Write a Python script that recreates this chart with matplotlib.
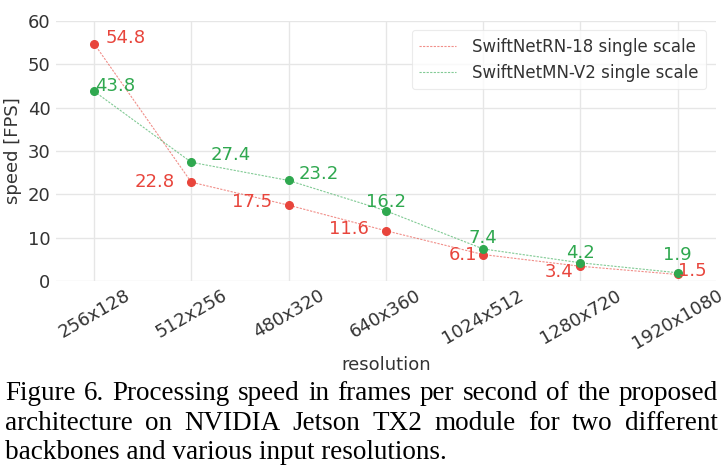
import matplotlib
matplotlib.use("Agg")
import matplotlib.pyplot as plt

plt.rcParams["font.family"] = ["DejaVu Sans"]

resolutions = ["256x128", "512x256", "480x320", "640x360", "1024x512", "1280x720", "1920x1080"]
rn18_fps = [54.8, 22.8, 17.5, 11.6, 6.1, 3.4, 1.5]
mnv2_fps = [43.8, 27.4, 23.2, 16.2, 7.4, 4.2, 1.9]
series_names = ["SwiftNetRN-18 single scale", "SwiftNetMN-V2 single scale"]
caption_lines = [
    "Figure 6. Processing speed in frames per second of the proposed",
    "architecture on NVIDIA Jetson TX2 module for two different",
    "backbones and various input resolutions.",
]

# label offsets in points (dx, dy, ha)
rn_off = [(8, 4, "left"), (-12, 0, "right"), (-12, 2, "right"), (-12, 1, "right"),
          (-4, 0, "right"), (-5, -4, "right"), (0, 2.5, "left")]
mn_off = [(1, 4, "left"), (14, 5, "left"), (7, 5, "left"), (0, 6, "center"),
          (0, 8, "center"), (0, 7, "center"), (0, 13, "center")]

RED = "#e8453c"
GREEN = "#2fa84f"
TXT = "#333333"

fig = plt.figure(figsize=(7.28, 4.66), dpi=100)
ax = fig.add_axes([0.077, 0.397, 0.906, 0.558])
x = list(range(len(resolutions)))

ax.plot(x, rn18_fps, linestyle="--", color=RED, lw=0.8, alpha=0.6, dashes=(2, 1.2),
        label=series_names[0])
ax.plot(x, mnv2_fps, linestyle="--", color=GREEN, lw=0.8, alpha=0.6, dashes=(2, 1.2),
        label=series_names[1])
ax.plot(x, rn18_fps, "o", color=RED, ms=5.5, zorder=3)
ax.plot(x, mnv2_fps, "o", color=GREEN, ms=5.5, zorder=3)

for xi, v, (dx, dy, ha) in zip(x, rn18_fps, rn_off):
    ax.annotate(f"{v}", (xi, v), xytext=(dx, dy), textcoords="offset points",
                ha=ha, va="center", color=RED, fontsize=13, zorder=4)
for xi, v, (dx, dy, ha) in zip(x, mnv2_fps, mn_off):
    ax.annotate(f"{v}", (xi, v), xytext=(dx, dy), textcoords="offset points",
                ha=ha, va="center", color=GREEN, fontsize=13, zorder=4)

ax.set_xlim(-0.39, 6.39)
ax.set_ylim(0, 60)
ax.set_yticks([0, 10, 20, 30, 40, 50, 60])
ax.set_xticks(x)
ax.set_xticklabels(resolutions, rotation=30, ha="center")
ax.tick_params(axis="both", labelsize=13, colors=TXT, length=0, pad=4)
ax.grid(True, color="#e6e6e6", lw=1.0)
for s in ax.spines.values():
    s.set_visible(False)
ax.set_axisbelow(True)
ax.set_xlabel("resolution", fontsize=13, color=TXT, labelpad=2)
ax.set_ylabel("speed [FPS]", fontsize=13, color=TXT, labelpad=4)

leg = ax.legend(loc="upper right", fontsize=12, frameon=True, handlelength=2.2,
                borderpad=0.45, labelspacing=0.5, handletextpad=1.0,
                borderaxespad=0, bbox_to_anchor=(0.986, 0.965))
leg.get_frame().set_edgecolor("#e6e6e6")
leg.get_frame().set_linewidth(0.8)
for t in leg.get_texts():
    t.set_color(TXT)

# caption, justified lines
fig.canvas.draw()
renderer = fig.canvas.get_renderer()
W = fig.bbox.width
x0, x1 = 5.0, 718.0
baselines = [400.0, 430.0, 459.0]
cap_fs = 19.5
for i, line in enumerate(caption_lines):
    words = line.split(" ")
    yb = 1 - baselines[i] / fig.bbox.height
    if i == len(caption_lines) - 1:
        fig.text(x0 / W, yb, line, fontsize=cap_fs, family="Liberation Serif",
                 color="black", va="baseline", ha="left")
        continue
    texts = [fig.text(0, yb, w, fontsize=cap_fs, family="Liberation Serif",
                      color="black", va="baseline", ha="left") for w in words]
    widths = [t.get_window_extent(renderer).width for t in texts]
    gap = (x1 - x0 - sum(widths)) / (len(words) - 1)
    cur = x0
    for t, wd in zip(texts, widths):
        t.set_x(cur / W)
        cur += wd + gap

fig.savefig("out.png", dpi=100)
